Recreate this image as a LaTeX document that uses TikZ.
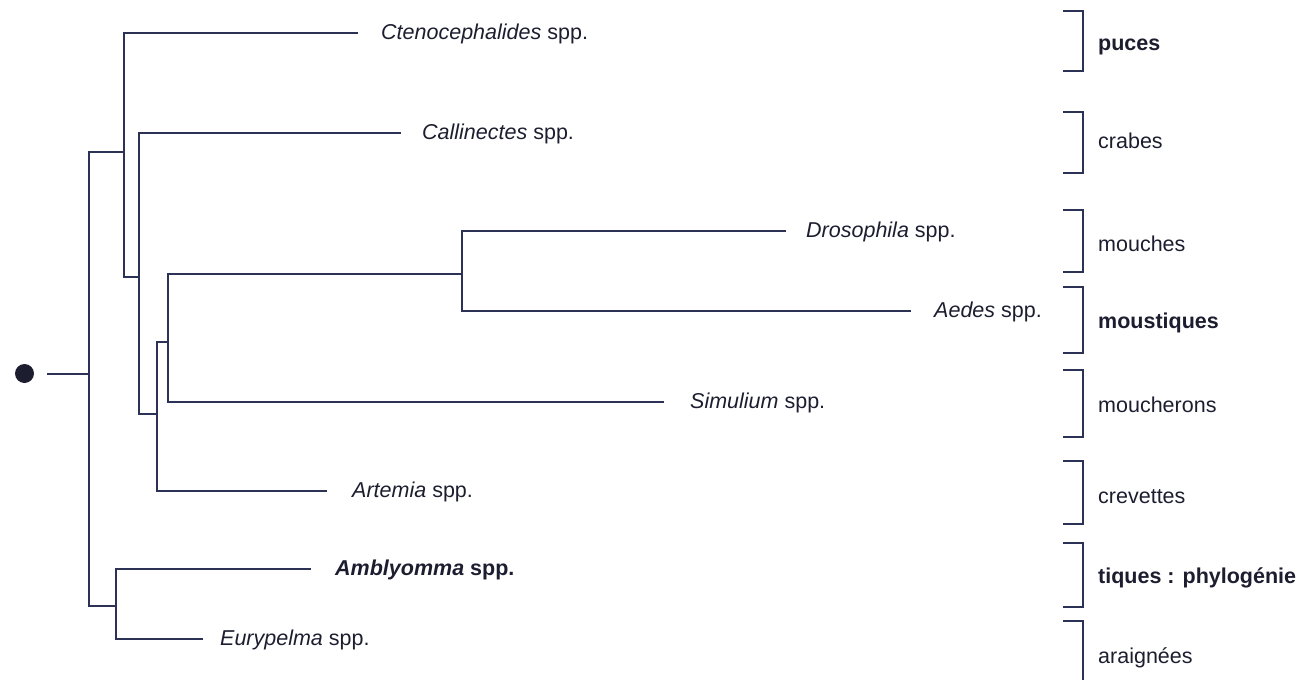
\documentclass[tikz,border=0pt]{standalone}
\usepackage{fontspec}
\setmainfont{Liberation Sans}
\definecolor{ink}{RGB}{28,30,48}
\definecolor{branch}{RGB}{44,50,86}
\begin{document}
\begin{tikzpicture}[x=1pt,y=-1pt,
  branchline/.style={draw=branch,line width=1.8pt,line cap=rect},
  bracketline/.style={draw=branch,line width=1.8pt},
  taxon/.style={anchor=base west,inner sep=0pt,text=ink,font=\fontsize{21.5}{24}\selectfont},
  group/.style={anchor=base west,inner sep=0pt,text=ink,font=\fontsize{21.5}{24}\selectfont}]
\useasboundingbox (0,0) rectangle (1310,680);

% root marker
\fill[ink] (24.5,373.5) circle (9.5pt);
\coordinate (stub) at (48,374);

% internal nodes of the tree
\coordinate (r)  at (89,374);
\coordinate (n1) at (124,152);
\coordinate (n2) at (139,277);
\coordinate (n3) at (157,414);
\coordinate (n4) at (168,342);
\coordinate (n5) at (462,274);
\coordinate (n6) at (116,606);

% branch tips
\coordinate (cteno) at (357,33);
\coordinate (calli) at (400,133);
\coordinate (droso) at (785,231);
\coordinate (aedes) at (910,311);
\coordinate (simul) at (663,402);
\coordinate (artem) at (326,491);
\coordinate (ambly) at (310,569);
\coordinate (euryp) at (202,639);

% taxon names
\node[taxon] (lCteno) at (381,39)  {\itshape Ctenocephalides\upshape\ spp.};
\node[taxon] (lCalli) at (422,139) {\itshape Callinectes\upshape\ spp.};
\node[taxon] (lDroso) at (806,237) {\itshape Drosophila\upshape\ spp.};
\node[taxon] (lAedes) at (934,317) {\itshape Aedes\upshape\ spp.};
\node[taxon] (lSimul) at (690,408) {\itshape Simulium\upshape\ spp.};
\node[taxon] (lArtem) at (352,497) {\itshape Artemia\upshape\ spp.};
\node[taxon] (lAmbly) at (335,575) {\bfseries\itshape Amblyomma\upshape\ spp.};
\node[taxon] (lEuryp) at (220,645) {\itshape Eurypelma\upshape\ spp.};

% branches
\draw[branchline] (stub) -- (r);
\draw[branchline] (r) |- (n1);
\draw[branchline] (r) |- (n6);
\draw[branchline] (n1) |- (cteno);
\draw[branchline] (n1) |- (n2);
\draw[branchline] (n2) |- (calli);
\draw[branchline] (n2) |- (n3);
\draw[branchline] (n3) |- (n4);
\draw[branchline] (n3) |- (artem);
\draw[branchline] (n4) |- (n5);
\draw[branchline] (n4) |- (simul);
\draw[branchline] (n5) |- (droso);
\draw[branchline] (n5) |- (aedes);
\draw[branchline] (n6) |- (ambly);
\draw[branchline] (n6) |- (euryp);

% common-name brackets
\draw[bracketline] (1063,11)  -- (1083,11)  -- (1083,71)  -- (1063,71);
\draw[bracketline] (1063,112) -- (1083,112) -- (1083,173) -- (1063,173);
\draw[bracketline] (1063,210) -- (1083,210) -- (1083,272) -- (1063,272);
\draw[bracketline] (1063,287) -- (1083,287) -- (1083,353) -- (1063,353);
\draw[bracketline] (1063,370) -- (1083,370) -- (1083,437) -- (1063,437);
\draw[bracketline] (1063,461) -- (1083,461) -- (1083,524) -- (1063,524);
\draw[bracketline] (1063,543) -- (1083,543) -- (1083,607) -- (1063,607);
\draw[bracketline] (1063,621) -- (1083,621) -- (1083,690);

% common names
\node[group] (gPuces) at (1098,50)  {\bfseries puces};
\node[group] (gCrabe) at (1098,148) {crabes};
\node[group] (gMouch) at (1098,251) {mouches};
\node[group] (gMoust) at (1098,328) {\bfseries moustiques};
\node[group] (gMoucr) at (1098,412) {moucherons};
\node[group] (gCreve) at (1098,503) {crevettes};
\node[group] (gTique) at (1098,583) {\bfseries tiques : phylogénie};
\node[group] (gAraig) at (1098,663) {araignées};
\end{tikzpicture}
\end{document}
